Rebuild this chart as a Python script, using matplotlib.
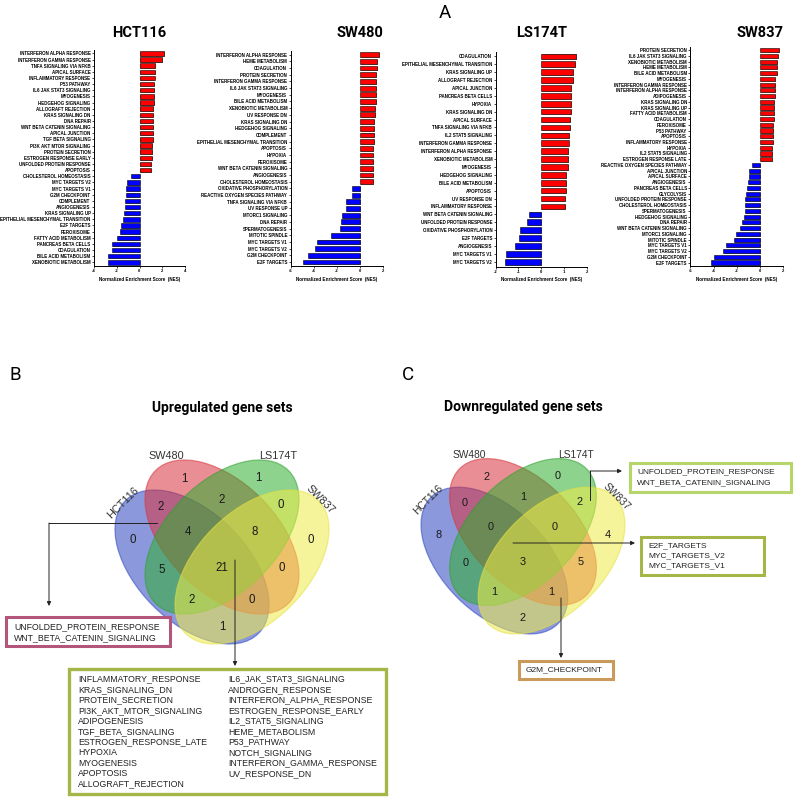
import matplotlib
matplotlib.use("Agg")
import matplotlib.pyplot as plt
import matplotlib.transforms as mtransforms
import matplotlib.patheffects as pe
from matplotlib.patches import Ellipse, Rectangle
import numpy as np

W, H = 794, 797

# ---------------- panel A data (NES) ----------------
hct_labels = ["INTERFERON ALPHA RESPONSE", "INTERFERON GAMMA RESPONSE", "TNFA SIGNALING VIA NFKB",
              "APICAL SURFACE", "INFLAMMATORY RESPONSE", "P53 PATHWAY", "IL6 JAK STAT3 SIGNALING",
              "MYOGENESIS", "HEDGEHOG SIGNALING", "ALLOGRAFT REJECTION", "KRAS SIGNALING DN",
              "DNA REPAIR", "WNT BETA CATENIN SIGNALING", "APICAL JUNCTION", "TGF BETA SIGNALING",
              "PI3K AKT MTOR SIGNALING", "PROTEIN SECRETION", "ESTROGEN RESPONSE EARLY",
              "UNFOLDED PROTEIN RESPONSE", "APOPTOSIS", "CHOLESTEROL HOMEOSTASIS", "MYC TARGETS V2",
              "MYC TARGETS V1", "G2M CHECKPOINT", "COMPLEMENT", "ANGIOGENESIS", "KRAS SIGNALING UP",
              "EPITHELIAL MESENCHYMAL TRANSITION", "E2F TARGETS", "PEROXISOME", "FATTY ACID METABOLISM",
              "PANCREAS BETA CELLS", "COAGULATION", "BILE ACID METABOLISM", "XENOBIOTIC METABOLISM"]
hct_nes = [2.15, 1.94, 1.38, 1.35, 1.32, 1.30, 1.30, 1.29, 1.24, 1.23, 1.21, 1.20, 1.20, 1.19, 1.17,
           1.14, 1.08, 1.06, 1.05, 1.03, -0.73, -1.14, -1.15, -1.22, -1.25, -1.31, -1.37, -1.49,
           -1.60, -1.69, -2.00, -2.40, -2.42, -2.77, -2.80]

sw480_labels = ["INTERFERON ALPHA RESPONSE", "HEME METABOLISM", "COAGULATION", "PROTEIN SECRETION",
                "INTERFERON GAMMA RESPONSE", "IL6 JAK STAT3 SIGNALING", "MYOGENESIS", "BILE ACID METABOLISM",
                "XENOBIOTIC METABOLISM", "UV RESPONSE DN", "KRAS SIGNALING DN", "HEDGEHOG SIGNALING",
                "COMPLEMENT", "EPITHELIAL MESENCHYMAL TRANSITION", "APOPTOSIS", "HYPOXIA", "PEROXISOME",
                "WNT BETA CATENIN SIGNALING", "ANGIOGENESIS", "CHOLESTEROL HOMEOSTASIS",
                "OXIDATIVE PHOSPHORYLATION", "REACTIVE OXYGEN SPECIES PATHWAY", "TNFA SIGNALING VIA NFKB",
                "UV RESPONSE UP", "MTORC1 SIGNALING", "DNA REPAIR", "SPERMATOGENESIS", "MITOTIC SPINDLE",
                "MYC TARGETS V1", "MYC TARGETS V2", "G2M CHECKPOINT", "E2F TARGETS"]
sw480_nes = [1.68, 1.54, 1.50, 1.45, 1.39, 1.39, 1.39, 1.38, 1.36, 1.30, 1.28, 1.28, 1.25, 1.25, 1.19,
             1.19, 1.16, 1.16, 1.13, 1.13, -0.70, -0.70, -1.16, -1.19, -1.54, -1.65, -1.68, -2.52,
             -3.74, -3.91, -4.46, -4.90]

ls_labels = ["COAGULATION", "EPITHELIAL MESENCHYMAL TRANSITION", "KRAS SIGNALING UP", "ALLOGRAFT REJECTION",
             "APICAL JUNCTION", "PANCREAS BETA CELLS", "HYPOXIA", "KRAS SIGNALING DN", "APICAL SURFACE",
             "TNFA SIGNALING VIA NFKB", "IL2 STAT5 SIGNALING", "INTERFERON GAMMA RESPONSE",
             "INTERFERON ALPHA RESPONSE", "XENOBIOTIC METABOLISM", "MYOGENESIS", "HEDGEHOG SIGNALING",
             "BILE ACID METABOLISM", "APOPTOSIS", "UV RESPONSE DN", "INFLAMMATORY RESPONSE",
             "WNT BETA CATENIN SIGNALING", "UNFOLDED PROTEIN RESPONSE", "OXIDATIVE PHOSPHORYLATION",
             "E2F TARGETS", "ANGIOGENESIS", "MYC TARGETS V1", "MYC TARGETS V2"]
ls_nes = [1.55, 1.49, 1.41, 1.39, 1.33, 1.29, 1.29, 1.29, 1.26, 1.25, 1.22, 1.20, 1.17, 1.17, 1.17,
          1.11, 1.11, 1.10, 1.05, 1.04, -0.54, -0.63, -0.92, -0.97, -1.14, -1.55, -1.60]

sw837_labels = ["PROTEIN SECRETION", "IL6 JAK STAT3 SIGNALING", "XENOBIOTIC METABOLISM", "HEME METABOLISM",
                "BILE ACID METABOLISM", "MYOGENESIS", "INTERFERON GAMMA RESPONSE", "INTERFERON ALPHA RESPONSE",
                "ADIPOGENESIS", "KRAS SIGNALING DN", "KRAS SIGNALING UP", "FATTY ACID METABOLISM",
                "COAGULATION", "PEROXISOME", "P53 PATHWAY", "APOPTOSIS", "INFLAMMATORY RESPONSE", "HYPOXIA",
                "IL2 STAT5 SIGNALING", "ESTROGEN RESPONSE LATE", "REACTIVE OXYGEN SPECIES PATHWAY",
                "APICAL JUNCTION", "APICAL SURFACE", "ANGIOGENESIS", "PANCREAS BETA CELLS", "GLYCOLYSIS",
                "UNFOLDED PROTEIN RESPONSE", "CHOLESTEROL HOMEOSTASIS", "SPERMATOGENESIS",
                "HEDGEHOG SIGNALING", "DNA REPAIR", "WNT BETA CATENIN SIGNALING", "MTORC1 SIGNALING",
                "MITOTIC SPINDLE", "MYC TARGETS V1", "MYC TARGETS V2", "G2M CHECKPOINT", "E2F TARGETS"]
sw837_nes = [1.66, 1.58, 1.49, 1.46, 1.46, 1.32, 1.32, 1.32, 1.32, 1.23, 1.23, 1.23, 1.23, 1.15, 1.15,
             1.15, 1.15, 1.06, 1.03, 1.03, -0.72, -0.92, -0.95, -1.00, -1.15, -1.23, -1.26, -1.26,
             -1.26, -1.35, -1.52, -1.69, -2.09, -2.23, -2.89, -3.18, -3.98, -4.18]

# ---------------- panels B / C data (Venn region counts) ----------------
# region order: SW480 only, LS174T only, HCT∩SW480, SW480∩LS, LS∩SW837, HCT only,
# HCT∩SW480∩LS, SW480∩LS∩SW837, SW837 only, HCT∩LS, all four, SW480∩SW837,
# HCT∩LS∩SW837, HCT∩SW480∩SW837, HCT∩SW837
up_counts = [1, 1, 2, 2, 0, 0, 4, 8, 0, 5, 21, 0, 2, 0, 1]
down_counts = [2, 0, 0, 1, 2, 8, 0, 0, 4, 0, 3, 5, 1, 1, 2]
set_names = ["HCT116", "SW480", "LS174T", "SW837"]

up_pink_box = ["UNFOLDED_PROTEIN_RESPONSE", "WNT_BETA_CATENIN_SIGNALING"]
up_all_left = ["INFLAMMATORY_RESPONSE", "KRAS_SIGNALING_DN", "PROTEIN_SECRETION", "PI3K_AKT_MTOR_SIGNALING",
               "ADIPOGENESIS", "TGF_BETA_SIGNALING", "ESTROGEN_RESPONSE_LATE", "HYPOXIA", "MYOGENESIS",
               "APOPTOSIS", "ALLOGRAFT_REJECTION"]
up_all_right = ["IL6_JAK_STAT3_SIGNALING", "ANDROGEN_RESPONSE", "INTERFERON_ALPHA_RESPONSE",
                "ESTROGEN_RESPONSE_EARLY", "IL2_STAT5_SIGNALING", "HEME_METABOLISM", "P53_PATHWAY",
                "NOTCH_SIGNALING", "INTERFERON_GAMMA_RESPONSE", "UV_RESPONSE_DN"]
down_ls_sw837 = ["UNFOLDED_PROTEIN_RESPONSE", "WNT_BETA_CATENIN_SIGNALING"]
down_all = ["E2F_TARGETS", "MYC_TARGETS_V2", "MYC_TARGETS_V1"]
down_hct_sw480_sw837 = ["G2M_CHECKPOINT"]

fig = plt.figure(figsize=(W / 100, H / 100), dpi=100)
ax0 = fig.add_axes([0, 0, 1, 1])
ax0.set_xlim(0, W)
ax0.set_ylim(H, 0)
ax0.axis("off")

TICKFONT = "Liberation Sans"


def bar_panel(left, right, top, bottom, title, labels, values, xlim, xticks):
    ax = fig.add_axes([left / W, 1 - bottom / H, (right - left) / W, (bottom - top) / H])
    n = len(labels)
    y = np.arange(n)[::-1]
    colors = ["#ff0000" if v > 0 else "#0000ff" for v in values]
    bars = ax.barh(y, values, height=0.72, color=colors, edgecolor="black", linewidth=0.4)
    for b in bars:
        b.set_path_effects([pe.SimplePatchShadow(offset=(0.7, -0.7), shadow_rgbFace="#9a9a9a", alpha=1),
                            pe.Normal()])
    ax.set_ylim(-0.6, n - 0.45)
    ax.set_xlim(xlim)
    ax.set_xticks(xticks)
    ax.set_xticklabels([str(t) for t in xticks], fontsize=3.0, fontweight="bold", family=TICKFONT)
    ax.set_yticks(y)
    ax.set_yticklabels(labels, fontsize=3.25, fontweight="bold", family=TICKFONT)
    for s in ["top", "right"]:
        ax.spines[s].set_visible(False)
    for s in ["left", "bottom"]:
        ax.spines[s].set_linewidth(0.7)
    ax.tick_params(axis="both", length=1.5, width=0.5, pad=1)
    ax.set_xlabel("Normalized Enrichment Score  (NES)", fontsize=3.3, fontweight="bold",
                  family=TICKFONT, labelpad=2.5)
    tr = mtransforms.blended_transform_factory(ax.transData, fig.transFigure)
    ax.text(0, 1 - 33 / H, title, transform=tr, ha="center", va="center", fontsize=10.5,
            fontweight="bold", family="Roboto")
    return ax


bar_panel(94, 185, 50, 266, "HCT116", hct_labels, hct_nes, (-4, 4), [-4, -2, 0, 2, 4])
bar_panel(290.7, 382.7, 51, 266, "SW480", sw480_labels, sw480_nes, (-6, 2), [-6, -4, -2, 0, 2])
bar_panel(495.7, 586.7, 52, 266.5, "LS174T", ls_labels, ls_nes, (-2, 2), [-2, -1, 0, 1, 2])
bar_panel(690.3, 783.3, 47, 266, "SW837", sw837_labels, sw837_nes, (-6, 2), [-6, -4, -2, 0, 2])

# panel letters and Venn titles
for letter, (lx, ly) in zip("ABC", [(445, 13), (15, 375), (408, 375)]):
    ax0.text(lx, ly, letter, fontsize=13.5, ha="center", va="center", family="Roboto")
ax0.text(222, 408, "Upregulated gene sets", fontsize=10, fontweight="bold", ha="center", va="center",
         family="Roboto")
ax0.text(523, 407, "Downregulated gene sets", fontsize=10, fontweight="bold", ha="center", va="center",
         family="Roboto")

# Venn geometry relative to the diagram centre (offsets in px at scale 1)
ell_offsets = [(-30, 30), (0, 0), (0, 0), (30, 30)]
ell_angles = [45, 45, -45, -45]
ell_colors = ["#2c46c0", "#d8323c", "#2fae30", "#f0ec48"]
ell_edges = ["#2c46c0", "#d8323c", "#2fa030", "#e6e040"]
region_pos = [(-38, -58), (36, -59), (-61, -30), (0, -37), (59, -32), (-89, 3), (-34, -5), (33, -5),
              (89, 3), (-60, 33), (0, 31), (60, 31), (-30, 63), (30, 63), (0, 90)]
name_pos = [(-99, -34, 45), (-56, -81, 0), (56, -81, 0), (98, -37, -45)]


def venn(cx, cy, sc, counts):
    for (dx, dy), ang, fc, ec in zip(ell_offsets, ell_angles, ell_colors, ell_edges):
        ax0.add_patch(Ellipse((cx + dx * sc, cy + dy * sc), 188 * sc, 110 * sc, angle=ang,
                              facecolor=fc, edgecolor=ec, alpha=0.55, linewidth=0.9))
    for (dx, dy), c in zip(region_pos, counts):
        ax0.text(cx + dx * sc, cy + dy * sc, str(c), fontsize=8.3 * sc, ha="center", va="center",
                 family="Liberation Sans", color="#1a1a1a")
    for (dx, dy, rot), name in zip(name_pos, set_names):
        ax0.text(cx + dx * sc, cy + dy * sc, name, fontsize=7.8 * sc, ha="center", va="center",
                 rotation=rot, family="Liberation Sans", color="#333333")


venn(222, 537, 1.0, up_counts)
venn(523, 532, 0.953, down_counts)


def box(x0, y0, x1, y1, color, lw=2.2):
    ax0.add_patch(Rectangle((x0, y0), x1 - x0, y1 - y0, facecolor="white", edgecolor=color,
                            linewidth=lw, zorder=3))


def lines(x, y0, items, step=10.3, fs=6.3):
    for k, s in enumerate(items):
        ax0.text(x, y0 + k * step, s, fontsize=fs, va="center", ha="left", family="Liberation Sans",
                 color="#222222", zorder=4)


def arrow(pts):
    xs, ys = zip(*pts)
    ax0.plot(xs[:-1], ys[:-1], color="#222222", lw=0.7, zorder=5)
    ax0.annotate("", xy=pts[-1], xytext=pts[-2],
                 arrowprops=dict(arrowstyle="-|>", color="#222222", lw=0.7, mutation_scale=6,
                                 shrinkA=0, shrinkB=0), zorder=5)


# panel B callouts
arrow([(157, 523), (49, 523), (49, 606)])
box(6, 617, 170, 646, "#b4567c")
lines(14, 627, up_pink_box)
arrow([(235, 560), (235, 666)])
box(69, 669, 386, 794, "#a6b548", lw=2.4)
lines(78, 679, up_all_left, step=10.5)
lines(228, 679, up_all_right, step=10.5)

# panel C callouts
arrow([(590, 500), (590, 471), (622, 471)])
box(630, 463, 791, 492, "#b6d56a")
lines(637, 472, down_ls_sw837, fs=6.0)
arrow([(513, 543), (635, 543)])
box(641, 537, 764, 575, "#a6b548")
lines(648, 546, down_all, step=10, fs=6.0)
arrow([(561, 598), (561, 658)])
box(519, 661, 613, 679, "#c99a5a")
lines(526, 670, down_hct_sw480_sw837, fs=6.0)

fig.savefig("out.png", dpi=100)
